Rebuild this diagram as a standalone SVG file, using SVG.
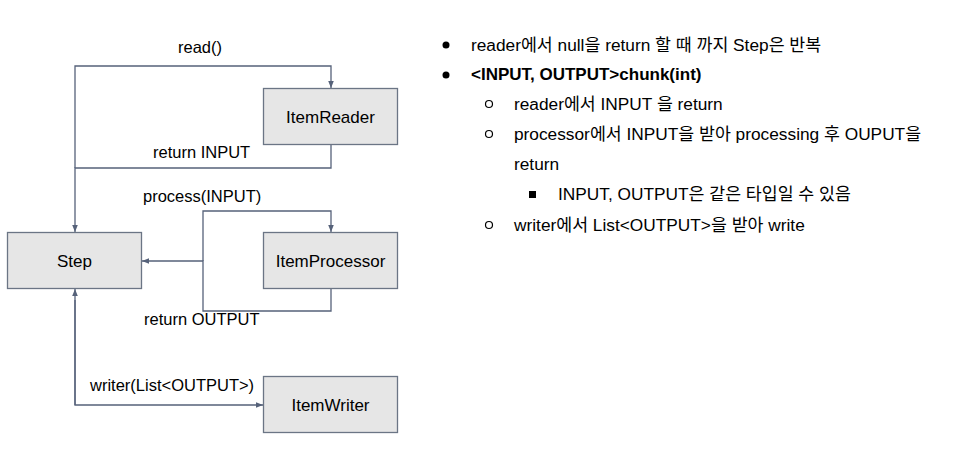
<svg xmlns="http://www.w3.org/2000/svg" width="976" height="467" viewBox="0 0 976 467">
<style>
  text { font-family: "Liberation Sans", Arial, "Noto Sans CJK KR", sans-serif; fill: #000; }
  .node rect { fill: #e6e6e6; stroke: #6b7585; stroke-width: 1.3; }
  .nl { font-size: 17px; text-anchor: middle; }
  .el { font-size: 16.5px; }
  .conn path { fill: none; stroke: #56627a; stroke-width: 1.3; }
  .t { font-size: 17.3px; }
  .b { font-weight: bold; font-size: 17px; }
</style>
<defs>
  <marker id="ah" viewBox="0 0 10 10" refX="10" refY="5" markerWidth="7" markerHeight="7" markerUnits="userSpaceOnUse" orient="auto">
    <path d="M0,1 L10,5 L0,9 z" fill="#56627a"/>
  </marker>
</defs>
<rect width="976" height="467" fill="#fff"/>

<g id="connectors" class="conn">
  <path d="M75,168 V66 H331 V88" marker-end="url(#ah)"/>
  <path d="M331,144 V168 H75 V232" marker-end="url(#ah)"/>
  <path d="M203,261 V211 H331 V232" marker-end="url(#ah)"/>
  <path d="M331,289 V311 H203 V261 H142" marker-end="url(#ah)"/>
  <path d="M75,405 V289" marker-end="url(#ah)"/>
  <path d="M75,300 V405 H263" marker-end="url(#ah)"/>
</g>

<g id="labels">
  <text class="el" x="178" y="53">read()</text>
  <text class="el" x="153" y="158">return INPUT</text>
  <text class="el" x="143" y="202">process(INPUT)</text>
  <text class="el" x="144" y="325">return OUTPUT</text>
  <text class="el" x="90" y="391">writer(List&lt;OUTPUT&gt;)</text>
</g>

<g id="ItemReader" class="node">
  <rect x="263.5" y="88.5" width="134" height="56"/>
  <text class="nl" x="330.5" y="122.5">ItemReader</text>
</g>
<g id="Step" class="node">
  <rect x="7.5" y="232.5" width="134" height="56"/>
  <text class="nl" x="74.5" y="266.5">Step</text>
</g>
<g id="ItemProcessor" class="node">
  <rect x="263.5" y="232.5" width="134" height="56"/>
  <text class="nl" x="330.5" y="266.5">ItemProcessor</text>
</g>
<g id="ItemWriter" class="node">
  <rect x="263.5" y="376.5" width="134" height="56"/>
  <text class="nl" x="330.5" y="410.5">ItemWriter</text>
</g>

<g id="notes">
  <circle cx="446" cy="45" r="3.5" fill="#000"/>
  <text class="t" x="471" y="51">reader에서 null을 return 할 때 까지 Step은 반복</text>
  <circle cx="446" cy="75" r="3.5" fill="#000"/>
  <text class="t b" x="471" y="80">&lt;INPUT, OUTPUT&gt;chunk(int)</text>
  <circle cx="489" cy="104" r="3.5" fill="none" stroke="#000" stroke-width="1.2"/>
  <text class="t" x="514" y="110">reader에서 INPUT 을 return</text>
  <circle cx="489" cy="134" r="3.5" fill="none" stroke="#000" stroke-width="1.2"/>
  <text class="t" x="514" y="140">processor에서 INPUT을 받아 processing 후 OUPUT을</text>
  <text class="t" x="514" y="170">return</text>
  <rect x="529" y="191" width="7" height="7" fill="#000"/>
  <text class="t" x="558" y="200">INPUT, OUTPUT은 같은 타입일 수 있음</text>
  <circle cx="489" cy="225" r="3.5" fill="none" stroke="#000" stroke-width="1.2"/>
  <text class="t" x="514" y="231">writer에서 List&lt;OUTPUT&gt;을 받아 write</text>
</g>
</svg>
